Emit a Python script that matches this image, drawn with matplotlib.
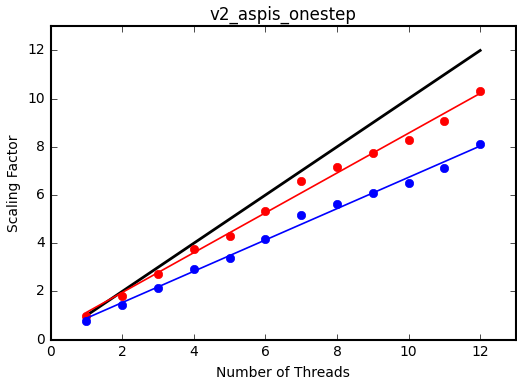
import numpy as np
import matplotlib
matplotlib.use("Agg")
import matplotlib.pyplot as plt

plt.style.use("classic")

threads = np.arange(1, 13)
ideal = threads.astype(float)
red_speedup = [0.98, 1.83, 2.72, 3.77, 4.30, 5.33, 6.60, 7.18, 7.74, 8.28, 9.07, 10.30]
blue_speedup = [0.76, 1.44, 2.16, 2.95, 3.38, 4.19, 5.19, 5.64, 6.09, 6.50, 7.13, 8.10]

fig = plt.figure(figsize=(5.17, 3.82), dpi=100, facecolor="white")
ax = fig.add_axes([0.098, 0.111, 0.900, 0.820])

ax.plot(threads, ideal, color="black", lw=2)
for ys, c in [(red_speedup, "red"), (blue_speedup, "blue")]:
    ax.plot(threads, ys, "o", color=c, markeredgecolor=c, markersize=6)
    k, b = np.polyfit(threads, ys, 1)
    ax.plot(threads, k * threads + b, color=c, lw=1.2)

ax.set_xlim(0, 13)
ax.set_ylim(0, 13)
ax.set_xticks(range(0, 13, 2))
ax.set_yticks(range(0, 13, 2))
for s in ax.spines.values():
    s.set_linewidth(1.5)
ax.tick_params(labelsize=10)
ax.set_xlabel("Number of Threads", fontsize=10)
ax.set_ylabel("Scaling Factor", fontsize=10)
ax.set_title("v2_aspis_onestep", fontsize=12)

fig.savefig("out.png", dpi=100, facecolor="white")
